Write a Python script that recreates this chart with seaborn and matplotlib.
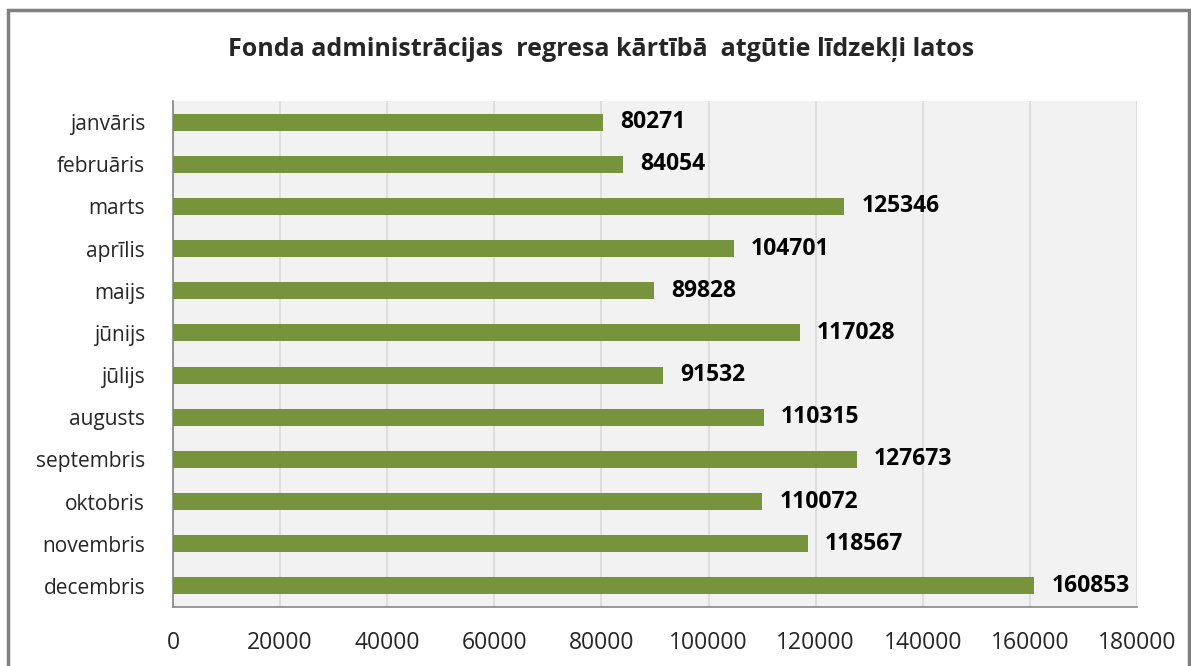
import matplotlib.pyplot as plt
import seaborn as sns
import pandas as pd
from matplotlib.patches import Rectangle

# data
months = ["janvāris", "februāris", "marts", "aprīlis", "maijs", "jūnijs",
          "jūlijs", "augusts", "septembris", "oktobris", "novembris", "decembris"]
amounts = [80271, 84054, 125346, 104701, 89828, 117028,
           91532, 110315, 127673, 110072, 118567, 160853]
x_ticks = [0, 20000, 40000, 60000, 80000, 100000, 120000, 140000, 160000, 180000]

df = pd.DataFrame({"month": months, "amount": amounts})

sns.set_theme(style="white")
plt.rcParams["font.family"] = ["Open Sans", "DejaVu Sans"]

W, H = 1191, 666
fig = plt.figure(figsize=(W / 100, H / 100), dpi=100)
ax = fig.add_axes([173 / W, 1 - 607 / H, (1137 - 173) / W, (607 - 101) / H])
ax.set_facecolor("#F2F2F2")

sns.barplot(data=df, x="amount", y="month", orient="h", color="#77933C",
            width=0.4, saturation=1, linewidth=0, ax=ax, zorder=3)

for i, v in enumerate(amounts):
    ax.text(v + 3200, i, str(v), va="center", ha="left", fontsize=16.5,
            fontweight="bold", color="black", zorder=4)

ax.set_xlim(0, 180000)
ax.set_ylim(len(months) - 0.5, -0.5)
ax.set_xticks(x_ticks)
ax.set_xticklabels([str(t) for t in x_ticks])
ax.xaxis.grid(True, color="#D9D9D9", linewidth=1.2, zorder=0)
ax.set_axisbelow(True)
ax.set_xlabel("")
ax.set_ylabel("")
ax.tick_params(axis="x", length=0, pad=17, labelsize=16.5)
ax.tick_params(axis="y", length=0, pad=20, labelsize=15)

for side in ["top", "right"]:
    ax.spines[side].set_visible(False)
for side in ["left", "bottom"]:
    ax.spines[side].set_color("#868686")
    ax.spines[side].set_linewidth(1.2)

fig.text(0.5 + 6 / W, 1 - 50 / H, "Fonda administrācijas  regresa kārtībā  atgūtie līdzekļi latos",
         ha="center", va="center", fontsize=18, fontweight="bold")

# outer chart border
fig.patches.append(Rectangle((8 / W, -0.05), (1189 - 8) / W, 1 - 10 / H + 0.05,
                             transform=fig.transFigure, fill=False,
                             edgecolor="#7F7F7F", linewidth=2.5))

fig.savefig("out.png", dpi=100)
